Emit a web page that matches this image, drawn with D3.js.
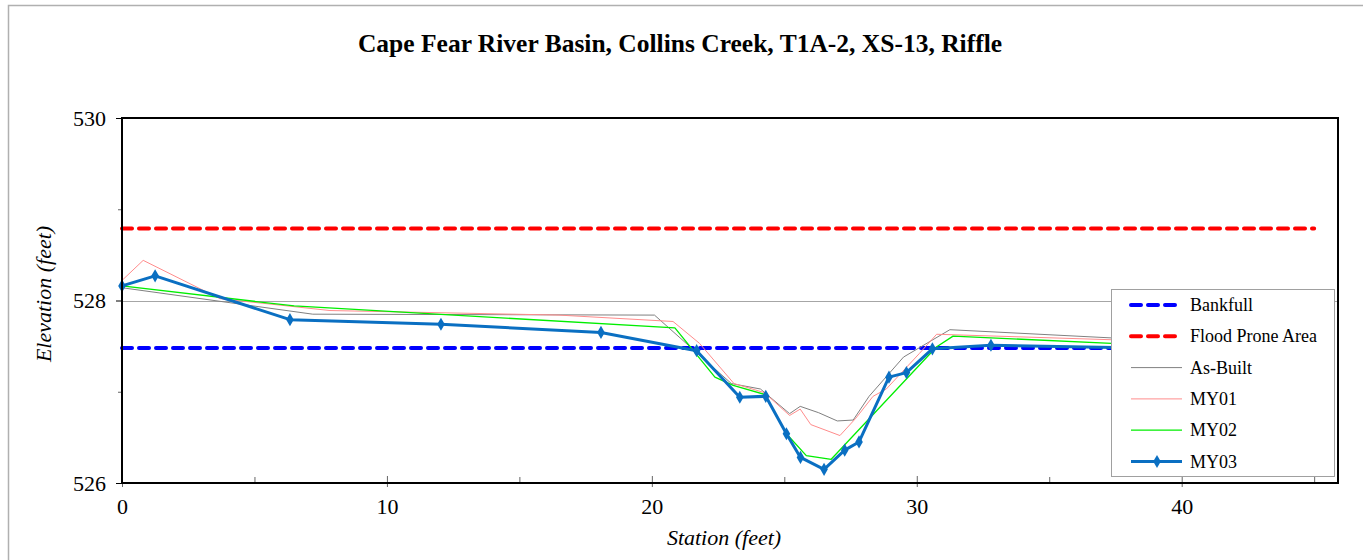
<!DOCTYPE html>
<html>
<head>
<meta charset="utf-8">
<script src="https://cdn.jsdelivr.net/npm/d3@7"></script>
<style>
  html, body { margin: 0; padding: 0; background: #fff; }
  svg { display: block; }
  svg text { font-family: "Liberation Serif", "Times New Roman", Tinos, "DejaVu Serif", serif; }
</style>
</head>
<body>
<svg id="chart" width="1363" height="560"></svg>
<script>
// Cross-section survey data: station (ft) vs elevation (ft)
const chartTitle = "Cape Fear River Basin, Collins Creek, T1A-2, XS-13, Riffle";

const asBuiltStation = [0, 7.2, 20.1, 23.0, 24.1, 25.2, 25.6, 26.3, 27.0, 27.6, 28.2, 29.5, 31.25, 37.35, 44.8];
const asBuiltElev    = [528.14, 527.85, 527.84, 527.09, 527.03, 526.76, 526.84, 526.77, 526.68, 526.69, 526.95, 527.38, 527.68, 527.59, 527.52];

const my01Station = [0, 0.8, 3.7, 7.85, 16.5, 20.8, 21.8, 23.1, 24.25, 25.2, 25.6, 26.0, 27.1, 27.7, 28.35, 28.85, 30.1, 30.75, 37.35, 44.8];
const my01Elev    = [528.22, 528.44, 528.02, 527.89, 527.84, 527.77, 527.53, 527.09, 526.99, 526.74, 526.81, 526.64, 526.52, 526.71, 526.95, 527.03, 527.42, 527.63, 527.57, 527.5];

const my02Station = [0, 6.5, 20.87, 22.38, 23.07, 24.26, 25.08, 25.83, 26.77, 30.74, 31.37, 37.35, 44.8];
const my02Elev    = [528.16, 527.94, 527.70, 527.16, 527.07, 526.97, 526.54, 526.30, 526.26, 527.49, 527.61, 527.53, 527.48];

const my03Station = [0, 1.25, 6.34, 12.04, 18.08, 21.69, 23.32, 24.30, 25.08, 25.61, 26.50, 27.28, 27.82, 28.95, 29.61, 30.59, 32.8, 38.5, 44.8];
const my03Elev    = [528.16, 528.27, 527.79, 527.74, 527.65, 527.45, 526.94, 526.95, 526.54, 526.28, 526.15, 526.36, 526.45, 527.16, 527.21, 527.47, 527.51, 527.48, 527.47];

const bankfullStation = [0, 45];
const bankfullElev    = [527.48, 527.48];
const floodStation    = [0, 45];
const floodElev       = [528.79, 528.79];

const xTickValues = [0, 10, 20, 30, 40];
const xMinorTicks = [5, 15, 25, 35, 45];
const yTickValues = [526, 528, 530];
const yMinorTicks = [527, 529];

const legendLabels = ["Bankfull", "Flood Prone Area", "As-Built", "MY01", "MY02", "MY03"];

// ---- layout ----
const svg = d3.select("#chart");
const plot = { left: 122, right: 1338, top: 118, bottom: 483 };

const x = d3.scaleLinear().domain([0, 45.9]).range([plot.left, plot.right]);
const y = d3.scaleLinear().domain([526, 530]).range([plot.bottom, plot.top]);

// outer chart frame
svg.append("rect")
  .attr("x", 8.5).attr("y", 5.5)
  .attr("width", 1400).attr("height", 600)
  .attr("fill", "#fff").attr("stroke", "#b0b0b0").attr("stroke-width", 1.5);

// title
svg.append("text")
  .attr("x", 680).attr("y", 52)
  .attr("text-anchor", "middle")
  .attr("font-weight", "bold").attr("font-size", 25.5)
  .text(chartTitle);

// gridline at the middle major tick
svg.append("g")
  .selectAll("line")
  .data(yTickValues.filter(v => v !== 526 && v !== 530))
  .join("line")
  .attr("x1", plot.left).attr("x2", plot.right)
  .attr("y1", d => Math.round(y(d)) + 0.5).attr("y2", d => Math.round(y(d)) + 0.5)
  .attr("stroke", "#a6a6a6").attr("stroke-width", 1.2);

// axes
const yAxis = d3.axisLeft(y).tickValues(yTickValues).tickFormat(d3.format("d")).tickSize(6).tickPadding(10);
const gy = svg.append("g").attr("transform", `translate(${plot.left},0)`).call(yAxis);
gy.attr("font-family", null);
gy.select(".domain").remove();
gy.selectAll(".tick line").attr("stroke", "#000");
gy.selectAll("text").attr("font-size", 22).attr("fill", "#000");

const yMinor = d3.axisLeft(y).tickValues(yMinorTicks).tickFormat("").tickSize(4);
const gym = svg.append("g").attr("transform", `translate(${plot.left},0)`).call(yMinor);
gym.select(".domain").remove();
gym.selectAll(".tick line").attr("stroke", "#666");

const xAxis = d3.axisBottom(x).tickValues(xTickValues).tickFormat(d3.format("d")).tickSize(4).tickPadding(11);
const gx = svg.append("g").attr("transform", `translate(0,${plot.bottom})`).call(xAxis);
gx.attr("font-family", null);
gx.select(".domain").remove();
gx.selectAll(".tick line").attr("y1", -7).attr("stroke", "#666");
gx.selectAll("text").attr("font-size", 22).attr("fill", "#000");

const xMinor = d3.axisBottom(x).tickValues(xMinorTicks.filter(v => x(v) < plot.right - 2)).tickFormat("").tickSize(0);
const gxm = svg.append("g").attr("transform", `translate(0,${plot.bottom})`).call(xMinor);
gxm.select(".domain").remove();
gxm.selectAll(".tick line").attr("y1", -6).attr("y2", 0).attr("stroke", "#666");

// axis titles
svg.append("text")
  .attr("x", 724).attr("y", 545)
  .attr("text-anchor", "middle")
  .attr("font-style", "italic").attr("font-size", 22)
  .text("Station (feet)");
svg.append("text")
  .attr("transform", "translate(51,294) rotate(-90)")
  .attr("text-anchor", "middle")
  .attr("font-style", "italic").attr("font-size", 22)
  .text("Elevation (feet)");

// series
const line = d3.line().x(d => x(d[0])).y(d => y(d[1]));
const zip = (a, b) => a.map((v, i) => [v, b[i]]);

const series = [
  { name: "Bankfull", data: zip(bankfullStation, bankfullElev), color: "#0000ff", width: 4, dash: "10 7" },
  { name: "Flood Prone Area", data: zip(floodStation, floodElev), color: "#ff0000", width: 4, dash: "10 7" },
  { name: "As-Built", data: zip(asBuiltStation, asBuiltElev), color: "#808080", width: 1 },
  { name: "MY01", data: zip(my01Station, my01Elev), color: "#ff8c8c", width: 1 },
  { name: "MY02", data: zip(my02Station, my02Elev), color: "#00ee00", width: 1.3 },
  { name: "MY03", data: zip(my03Station, my03Elev), color: "#0a6fc2", width: 3, marker: true }
];

const gLines = svg.append("g");
series.forEach(s => {
  gLines.append("path")
    .datum(s.data)
    .attr("d", line)
    .attr("fill", "none")
    .attr("stroke", s.color)
    .attr("stroke-width", s.width)
    .attr("stroke-linejoin", "round")
    .attr("stroke-linecap", s.dash ? "round" : "butt")
    .attr("stroke-dasharray", s.dash || null);
  if (s.marker) {
    gLines.selectAll(null)
      .data(s.data)
      .join("path")
      .attr("d", d3.symbol(d3.symbolDiamond, 50))
      .attr("transform", d => `translate(${x(d[0])},${y(d[1])})`)
      .attr("fill", s.color);
  }
});

// plot frame
svg.append("rect")
  .attr("x", plot.left).attr("y", plot.top)
  .attr("width", plot.right - plot.left).attr("height", plot.bottom - plot.top)
  .attr("fill", "none").attr("stroke", "#000").attr("stroke-width", 2);

// legend
const lg = svg.append("g");
lg.append("rect")
  .attr("x", 1111.5).attr("y", 289.5).attr("width", 223).attr("height", 187)
  .attr("fill", "#fff").attr("stroke", "#a0a0a0").attr("stroke-width", 1);
series.forEach((s, i) => {
  const cy = 305 + i * 31.3;
  lg.append("line")
    .attr("x1", 1131).attr("x2", 1182).attr("y1", cy).attr("y2", cy)
    .attr("stroke", s.color).attr("stroke-width", s.width)
    .attr("stroke-linecap", s.dash ? "round" : "butt")
    .attr("stroke-dasharray", s.dash || null);
  if (s.marker) {
    lg.append("path")
      .attr("d", d3.symbol(d3.symbolDiamond, 50))
      .attr("transform", `translate(1157,${cy})`)
      .attr("fill", s.color);
  }
  lg.append("text")
    .attr("x", 1190).attr("y", cy + 6)
    .attr("font-size", 18)
    .text(legendLabels[i]);
});
</script>
</body>
</html>
